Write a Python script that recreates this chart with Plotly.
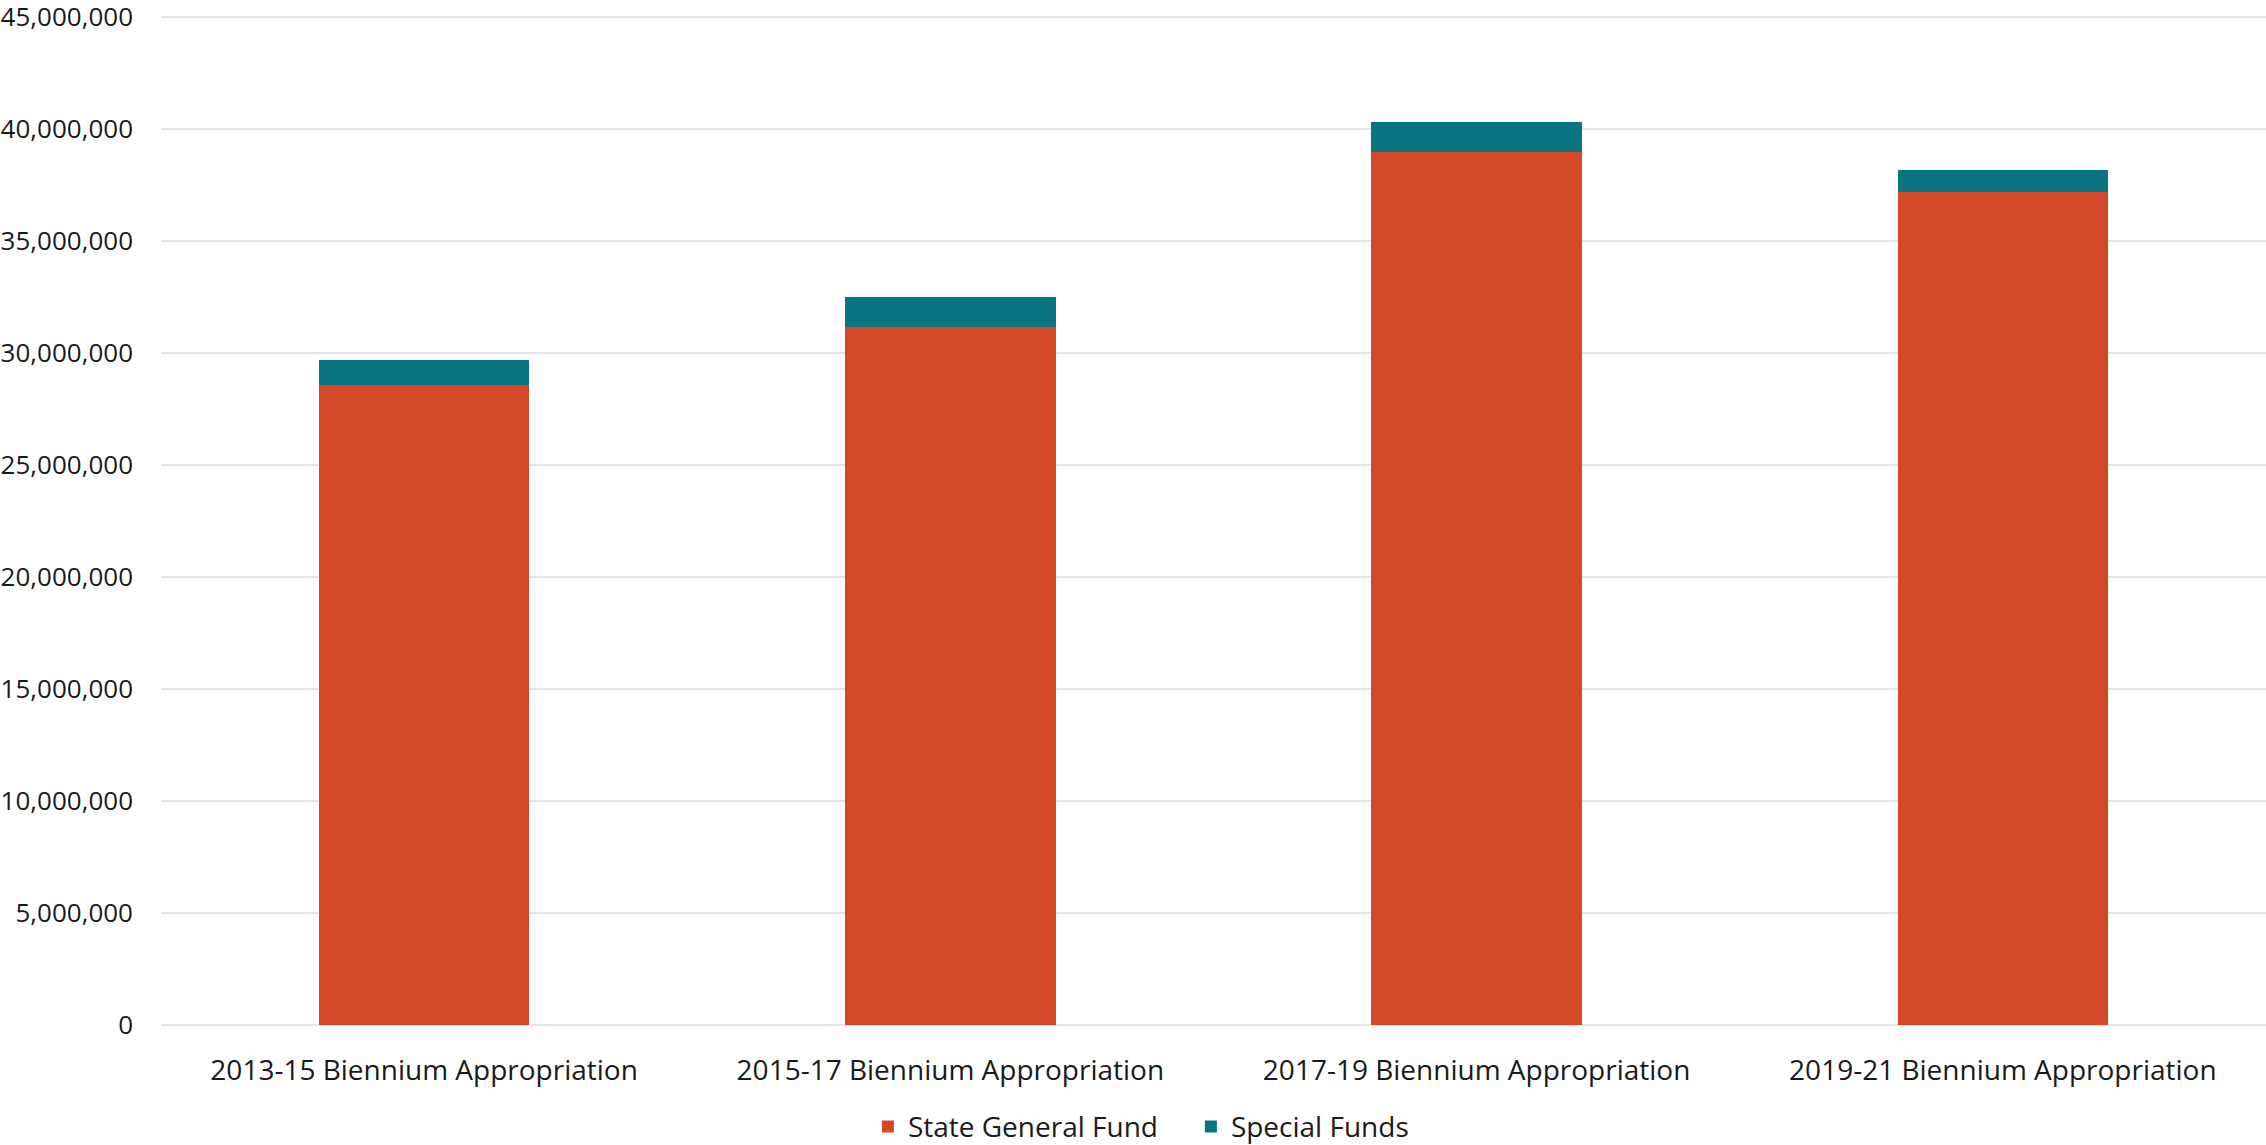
import plotly.graph_objects as go

# Biennium appropriations by fund source
categories = [
    "2013-15 Biennium Appropriation",
    "2015-17 Biennium Appropriation",
    "2017-19 Biennium Appropriation",
    "2019-21 Biennium Appropriation",
]
state_general_fund = [28_570_000, 31_170_000, 38_990_000, 37_200_000]
special_funds = [1_120_000, 1_340_000, 1_340_000, 960_000]
y_ticks = list(range(0, 45_000_001, 5_000_000))

ORANGE = "#D34826"
TEAL = "#0A7480"
FONT = "Open Sans, Noto Sans, sans-serif"
TEXT = "#1a1a1a"
FSIZE = 28

fig = go.Figure()
fig.add_trace(go.Bar(
    x=categories, y=state_general_fund, name="State General Fund",
    marker=dict(color=ORANGE, line=dict(width=0)),
))
fig.add_trace(go.Bar(
    x=categories, y=special_funds, name="Special Funds",
    marker=dict(color=TEAL, line=dict(width=0)),
))

fig.update_layout(
    width=2266, height=1145,
    barmode="stack", bargap=0.6,
    paper_bgcolor="white", plot_bgcolor="white",
    margin=dict(l=161, r=0, t=16, b=120),
    font=dict(family=FONT, size=FSIZE, color=TEXT),
    showlegend=True,
    legend=dict(
        orientation="h", traceorder="normal",
        xref="container", yref="container",
        x=0.383, xanchor="left", y=0.016, yanchor="middle",
        font=dict(family=FONT, size=FSIZE, color=TEXT),
        entrywidth=278, entrywidthmode="pixels",
    ),
)
fig.update_xaxes(
    showgrid=False, showline=False, ticks="", automargin=False,
    ticklabelstandoff=26,
    tickfont=dict(family=FONT, size=FSIZE, color=TEXT),
)
fig.update_yaxes(
    range=[0, 45_050_000], tickvals=y_ticks, tickformat=",",
    showgrid=True, gridcolor="#E4E4E4", gridwidth=2,
    zeroline=True, zerolinecolor="#E4E4E4", zerolinewidth=2,
    showline=False, ticks="", automargin=False, ticklabelstandoff=27,
    ticklabeloverflow="allow",
    tickfont=dict(family=FONT, size=26, color=TEXT),
)

fig.write_html("out.html")
